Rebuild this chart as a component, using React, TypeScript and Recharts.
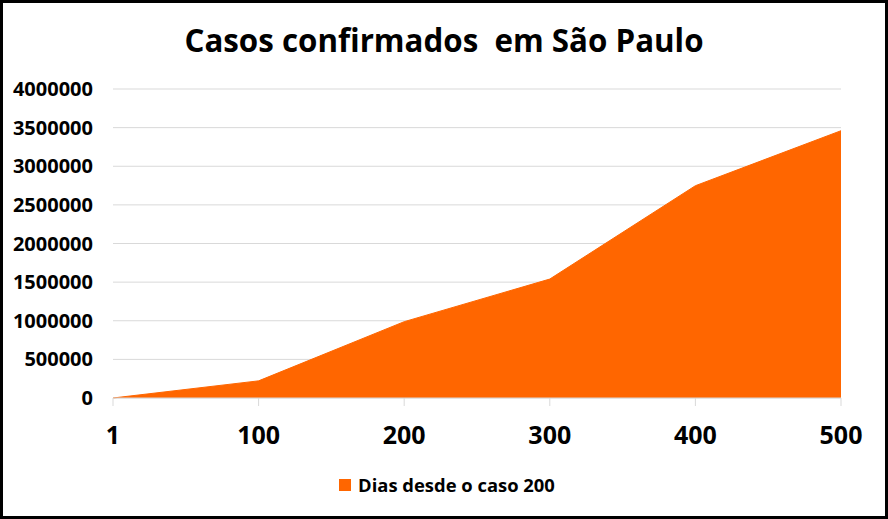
import { AreaChart, Area, XAxis, YAxis, CartesianGrid, Legend } from "recharts";

const days = ["1", "100", "200", "300", "400", "500"];
const confirmedCases = [0, 222000, 988000, 1540000, 2748000, 3460000];
const yTicks = [0, 500000, 1000000, 1500000, 2000000, 2500000, 3000000, 3500000, 4000000];

const seriesName = "Dias desde o caso 200";
const chartTitle = "Casos confirmados  em São Paulo";

const data = days.map((day, i) => ({ day, cases: confirmedCases[i] }));

const FONT = "'Open Sans', 'Liberation Sans', sans-serif";
const ORANGE = "#ff6600";

const LegendContent = () => (
	<div style={{ display: "flex", justifyContent: "center", alignItems: "center", fontFamily: FONT, fontWeight: 700, fontSize: 18.4, lineHeight: "25px", color: "#000" }}>
		<span style={{ display: "inline-block", width: 12, height: 12, background: ORANGE, marginRight: 7 }} />
		<span>{seriesName}</span>
	</div>
);

export default function App() {
	return (
		<div
			style={{
				position: "absolute",
				left: 0,
				top: 0,
				width: 888,
				height: 519,
				boxSizing: "border-box",
				border: "3px solid #000",
				background: "#fff",
			}}
		>
			<div
				style={{
					position: "absolute",
					top: 16,
					left: 0,
					width: 882,
					textAlign: "center",
					whiteSpace: "pre",
					fontFamily: FONT,
					fontWeight: 700,
					fontSize: 31.3,
					color: "#000",
				}}
			>
				{chartTitle}
			</div>
			<AreaChart
				width={882}
				height={513}
				data={data}
				margin={{ top: 86, right: 44, bottom: 4, left: 5 }}
				style={{ position: "absolute", left: 0, top: 0 }}
			>
				<CartesianGrid vertical={false} stroke="#d9d9d9" />
				<XAxis
					dataKey="day"
					axisLine={{ stroke: "#d9d9d9" }}
					tickLine={{ stroke: "#d9d9d9" }}
					tickSize={8}
					height={50}
					tick={{ fill: "#000", fontFamily: FONT, fontWeight: 700, fontSize: 25 }}
					tickMargin={20}
					padding={{ left: 0, right: 0 }}
				/>
				<YAxis
					domain={[0, 4000000]}
					ticks={yTicks}
					interval={0}
					width={105}
					axisLine={false}
					tickLine={false}
					tickMargin={14}
					tick={{ fill: "#000", fontFamily: FONT, fontWeight: 700, fontSize: 20 }}
				/>
				<Legend
					verticalAlign="bottom"
					height={40}
					width={882}
					content={LegendContent}
					wrapperStyle={{ paddingTop: 24, left: 3 }}
				/>
				<Area
					type="linear"
					dataKey="cases"
					name={seriesName}
					fill={ORANGE}
					fillOpacity={1}
					stroke={ORANGE}
					strokeWidth={1}
					isAnimationActive={false}
				/>
			</AreaChart>
		</div>
	);
}
